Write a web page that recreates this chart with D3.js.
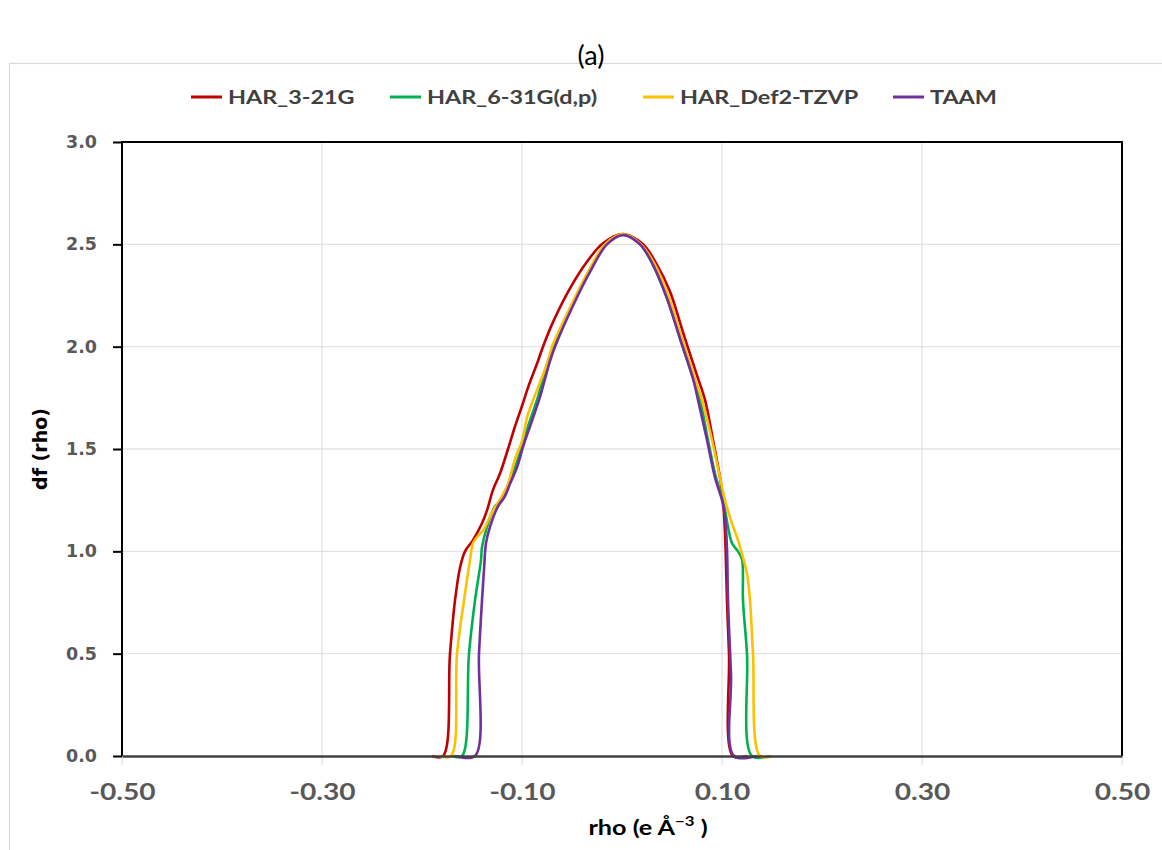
<!DOCTYPE html>
<html>
<head>
<meta charset="utf-8">
<script src="https://cdn.jsdelivr.net/npm/d3@7"></script>
<style>
  html, body { margin: 0; padding: 0; background: #ffffff; }
  svg { display: block; }
</style>
</head>
<body>
<svg id="chart" width="1162" height="850"></svg>
<script>
// Deformation-density distributions df(rho) for four refinement models
const seriesNames = ["HAR_3-21G", "HAR_6-31G(d,p)", "HAR_Def2-TZVP", "TAAM"];
const seriesColors = ["#C00000", "#00B050", "#FFC000", "#7030A0"];

const xTicks = [-0.5, -0.3, -0.1, 0.1, 0.3, 0.5];
const yTicks = [0, 0.5, 1.0, 1.5, 2.0, 2.5, 3.0];

const rho321 = [-0.190, -0.179, -0.172, -0.167, -0.162, -0.157, -0.149, -0.140, -0.135, -0.129, -0.122, -0.114, -0.107, -0.100, -0.094, -0.084, -0.079, -0.069, -0.052, -0.035, -0.019, 0.001, 0.021, 0.035, 0.048, 0.061, 0.075, 0.083, 0.091, 0.098, 0.101, 0.103, 0.105, 0.107, 0.111, 0.125];
const df321  = [0, 0, 0.50, 0.76, 0.92, 1.00, 1.055, 1.137, 1.20, 1.30, 1.38, 1.50, 1.61, 1.71, 1.80, 1.93, 2.00, 2.12, 2.285, 2.415, 2.505, 2.55, 2.50, 2.40, 2.27, 2.07, 1.86, 1.74, 1.544, 1.36, 1.25, 1.09, 0.76, 0.50, 0, 0];

const rho631 = [-0.169, -0.160, -0.153, -0.147, -0.141, -0.140, -0.135, -0.127, -0.120, -0.114, -0.107, -0.100, -0.094, -0.084, -0.074, -0.068, -0.050, -0.033, -0.016, 0.001, 0.018, 0.031, 0.045, 0.058, 0.071, 0.078, 0.086, 0.094, 0.101, 0.106, 0.110, 0.116, 0.120, 0.121, 0.125, 0.130, 0.148];
const df631  = [0, 0, 0.50, 0.76, 0.957, 1.02, 1.12, 1.22, 1.25, 1.32, 1.41, 1.51, 1.61, 1.755, 1.93, 2.00, 2.20, 2.365, 2.50, 2.548, 2.50, 2.40, 2.236, 2.04, 1.845, 1.74, 1.544, 1.36, 1.25, 1.12, 1.04, 1.00, 0.96, 0.76, 0.50, 0, 0];

const rhoTzvp = [-0.182, -0.171, -0.165, -0.158, -0.152, -0.149, -0.145, -0.139, -0.130, -0.120, -0.114, -0.107, -0.100, -0.094, -0.084, -0.074, -0.070, -0.051, -0.034, -0.017, 0.001, 0.019, 0.033, 0.047, 0.060, 0.073, 0.080, 0.090, 0.098, 0.103, 0.110, 0.116, 0.121, 0.125, 0.128, 0.131, 0.138, 0.150];
const dfTzvp  = [0, 0, 0.50, 0.76, 0.957, 1.04, 1.07, 1.10, 1.19, 1.27, 1.33, 1.45, 1.54, 1.67, 1.80, 1.93, 2.00, 2.20, 2.365, 2.50, 2.55, 2.50, 2.40, 2.24, 2.04, 1.845, 1.74, 1.544, 1.36, 1.25, 1.136, 1.055, 0.97, 0.89, 0.76, 0.50, 0, 0];

const rhoTaam = [-0.167, -0.147, -0.143, -0.140, -0.138, -0.136, -0.132, -0.124, -0.117, -0.112, -0.105, -0.099, -0.092, -0.082, -0.072, -0.067, -0.049, -0.032, -0.015, 0.001, 0.018, 0.031, 0.045, 0.058, 0.071, 0.076, 0.085, 0.093, 0.100, 0.103, 0.105, 0.106, 0.109, 0.112, 0.135];
const dfTaam  = [0, 0, 0.50, 0.76, 0.91, 1.04, 1.12, 1.22, 1.27, 1.33, 1.41, 1.51, 1.61, 1.755, 1.93, 2.00, 2.20, 2.365, 2.50, 2.545, 2.50, 2.40, 2.236, 2.04, 1.845, 1.74, 1.544, 1.36, 1.25, 1.17, 1.01, 0.76, 0.40, 0, 0];

const seriesX = [rho321, rho631, rhoTzvp, rhoTaam];
const seriesY = [df321, df631, dfTzvp, dfTaam];

const svg = d3.select("#chart");
const plot = { left: 122, right: 1122, top: 142, bottom: 756 };

const x = d3.scaleLinear().domain([-0.5, 0.5]).range([plot.left, plot.right]);
const y = d3.scaleLinear().domain([0, 3]).range([plot.bottom, plot.top]);

// Outer chart frame
svg.append("rect")
  .attr("x", 9.5).attr("y", 63.5)
  .attr("width", 1160).attr("height", 800)
  .attr("fill", "#ffffff").attr("stroke", "#d9d9d9").attr("stroke-width", 1.2);

// Panel title
svg.append("text")
  .attr("x", 591).attr("y", 65)
  .attr("text-anchor", "middle")
  .attr("font-family", "Lato, 'Open Sans', sans-serif")
  .attr("font-size", 27)
  .attr("fill", "#000000")
  .text("(a)");

// Horizontal gridlines
svg.append("g").selectAll("line")
  .data(yTicks.filter(v => v > 0 && v < 3))
  .join("line")
  .attr("x1", plot.left).attr("x2", plot.right)
  .attr("y1", d => y(d)).attr("y2", d => y(d))
  .attr("stroke", "#e3e3e3").attr("stroke-width", 1.3);

// Vertical gridlines (extend slightly below the axis as tick marks)
svg.append("g").selectAll("line")
  .data(xTicks)
  .join("line")
  .attr("x1", d => x(d)).attr("x2", d => x(d))
  .attr("y1", d => (d > -0.5 && d < 0.5) ? plot.top : plot.bottom)
  .attr("y2", plot.bottom + 9)
  .attr("stroke", "#dcdcdc").attr("stroke-width", 1);

// Series curves
const line = d3.line()
  .x(d => x(d[0]))
  .y(d => y(d[1]))
  .curve(d3.curveCatmullRom.alpha(0.5));

seriesNames.forEach((name, i) => {
  const pts = seriesX[i].map((v, k) => [v, seriesY[i][k]]);
  svg.append("path")
    .datum(pts)
    .attr("d", line)
    .attr("fill", "none")
    .attr("stroke", seriesColors[i])
    .attr("stroke-width", 2.6)
    .attr("stroke-linejoin", "round");
});

// Plot border: left, top, right in black
svg.append("path")
  .attr("d", `M${plot.left},${plot.bottom} V${plot.top} H${plot.right} V${plot.bottom}`)
  .attr("fill", "none").attr("stroke", "#000000").attr("stroke-width", 2);

// X axis (baseline) with labels
const fmtX = v => d3.format(".2f")(v).replace("\u2212", "-");
const xAxis = svg.append("g")
  .attr("transform", `translate(0,${plot.bottom})`)
  .call(d3.axisBottom(x).tickValues(xTicks).tickFormat(fmtX).tickSize(0).tickPadding(0));
xAxis.select(".domain").attr("stroke", "#404040").attr("stroke-width", 2.4);
xAxis.selectAll(".tick text")
  .attr("font-family", "Lato, 'Open Sans', sans-serif")
  .attr("font-weight", "bold")
  .attr("font-size", 22)
  .attr("fill", "#595959")
  .attr("dy", 0)
  .attr("y", 0)
  .attr("transform", "translate(0,44) scale(1.28,1)");

// Y axis with labels and outside ticks
const yAxis = svg.append("g")
  .attr("transform", `translate(${plot.left},0)`)
  .call(d3.axisLeft(y).tickValues(yTicks).tickFormat(d3.format(".1f")).tickSize(9).tickPadding(16));
yAxis.select(".domain").remove();
yAxis.selectAll(".tick line").attr("stroke", "#000000").attr("stroke-width", 2);
yAxis.selectAll(".tick text")
  .attr("font-family", "'DejaVu Sans', Verdana, sans-serif")
  .attr("font-weight", "bold")
  .attr("font-size", 17.5)
  .attr("fill", "#595959");

// Axis titles
const xTitle = svg.append("text")
  .attr("transform", "translate(648,835) scale(1.2,1)")
  .attr("text-anchor", "middle")
  .attr("font-family", "Lato, 'Open Sans', sans-serif")
  .attr("font-weight", "bold")
  .attr("font-size", 21)
  .attr("fill", "#000000");
xTitle.append("tspan").text("rho (e \u00C5");
xTitle.append("tspan").attr("dy", -9).attr("font-size", 14).text("\u22123");
xTitle.append("tspan").attr("dy", 9).text(" )");

svg.append("text")
  .attr("transform", "translate(47,449) rotate(-90)")
  .attr("text-anchor", "middle")
  .attr("font-family", "'DejaVu Sans', Verdana, sans-serif")
  .attr("font-weight", "bold")
  .attr("font-size", 19)
  .attr("fill", "#000000")
  .text("df (rho)");

// Legend
const legendX = [191, 390, 643, 893];
const legend = svg.append("g").selectAll("g")
  .data(seriesNames)
  .join("g")
  .attr("transform", (d, i) => `translate(${legendX[i]},97)`);
legend.append("line")
  .attr("x1", 0).attr("x2", 31).attr("y1", 0).attr("y2", 0)
  .attr("stroke", (d, i) => seriesColors[i]).attr("stroke-width", 3);
legend.append("text")
  .attr("transform", "translate(37,7) scale(1.3,1)")
  .attr("font-family", "Lato, 'Open Sans', sans-serif")
  .attr("font-weight", "bold")
  .attr("font-size", 18)
  .attr("fill", "#404040")
  .text(d => d);
</script>
</body>
</html>
